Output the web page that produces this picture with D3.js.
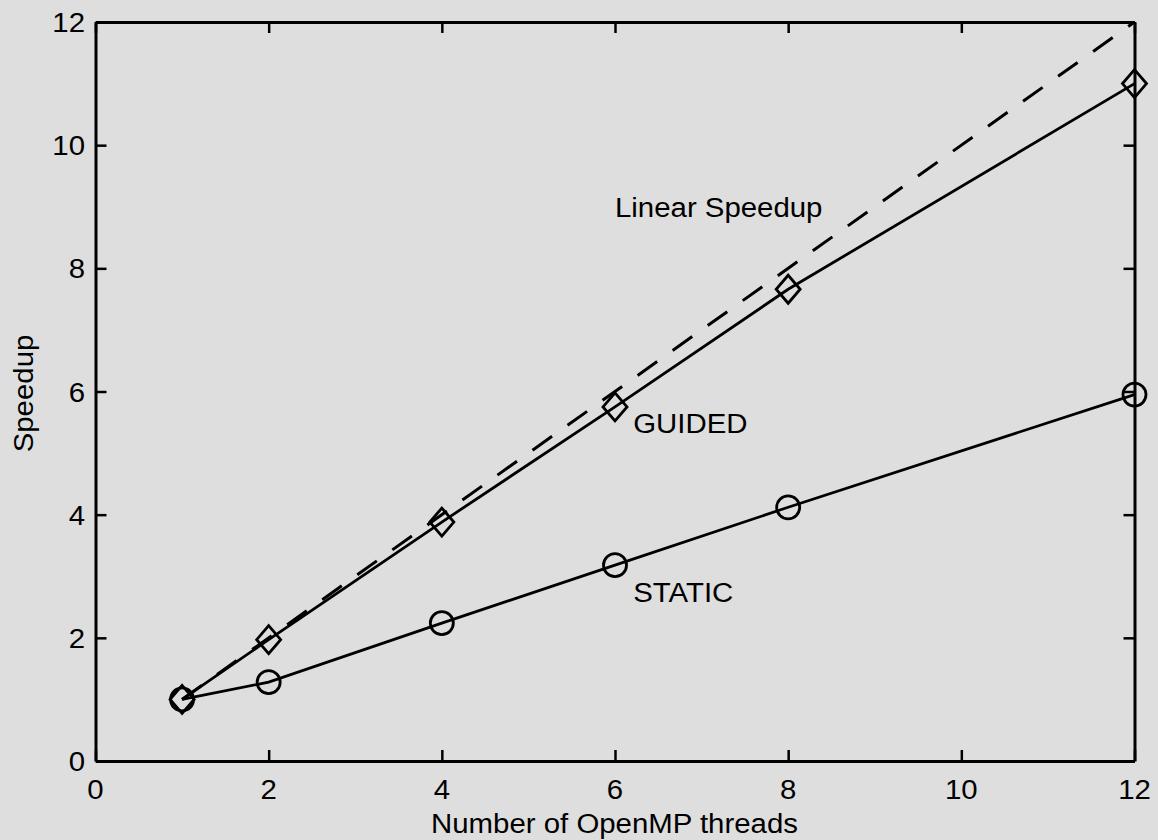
<!DOCTYPE html>
<html>
<head>
<meta charset="utf-8">
<script src="https://cdn.jsdelivr.net/npm/d3@7"></script>
<style>
html,body{margin:0;padding:0;background:#dedede;}
svg{display:block;}
text{font-family:"Liberation Sans",Arial,sans-serif;fill:#000;}
</style>
</head>
<body>
<svg id="chart" width="1158" height="840"></svg>
<script>
const threads = [1, 2, 4, 6, 8, 12];
const guided = [1.0, 1.97, 3.88, 5.75, 7.66, 11.0];
const staticVals = [1.0, 1.28, 2.24, 3.18, 4.12, 5.95];
const linearX = [1, 12];
const linearY = [1, 12];
const xTicks = [0, 2, 4, 6, 8, 10, 12];
const yTicks = [0, 2, 4, 6, 8, 10, 12];
const labels = [
  {text: "Linear Speedup", x: 6.0, y: 8.83},
  {text: "GUIDED", x: 6.21, y: 5.33},
  {text: "STATIC", x: 6.21, y: 2.58}
];

(function () {
const svg = d3.select("#chart");
const W = 1158, H = 840;
const mLeft = 95.5, mRight = 1134.5, mTop = 22, mBottom = 761;
const x = d3.scaleLinear().domain([0, 12]).range([mLeft, mRight]);
const y = d3.scaleLinear().domain([0, 12]).range([mBottom, mTop]);

svg.append("rect").attr("width", W).attr("height", H).attr("fill", "#dedede");

const fs = 28, sx = 1.05;
const gx = svg.append("g").attr("transform", `translate(0,${mBottom})`)
  .call(d3.axisBottom(x).tickValues(xTicks).tickSizeInner(-11).tickSizeOuter(0).tickFormat(""));
const gxt = svg.append("g").attr("transform", `translate(0,${mTop})`)
  .call(d3.axisTop(x).tickValues(xTicks).tickSizeInner(-11).tickSizeOuter(0).tickFormat(""));
const gy = svg.append("g").attr("transform", `translate(${mLeft},0)`)
  .call(d3.axisLeft(y).tickValues(yTicks).tickSizeInner(-11).tickSizeOuter(0).tickFormat(""));
const gyr = svg.append("g").attr("transform", `translate(${mRight},0)`)
  .call(d3.axisRight(y).tickValues(yTicks).tickSizeInner(-11).tickSizeOuter(0).tickFormat(""));
[gx, gxt, gy, gyr].forEach(g => {
  g.select(".domain").attr("stroke", "#000").attr("stroke-width", 3);
  g.selectAll(".tick line").attr("stroke", "#000").attr("stroke-width", 2.5);
  g.selectAll(".tick text").remove();
});

function txt(g, tx, ty, s, anchor, rot) {
  return g.append("text")
    .attr("transform", `translate(${tx},${ty})` + (rot ? ` rotate(${rot})` : "") + ` scale(${sx},1)`)
    .attr("text-anchor", anchor).attr("font-size", fs).text(s);
}

const tl = svg.append("g");
xTicks.forEach(d => txt(tl, x(d), 799, d, "middle"));
yTicks.forEach(d => txt(tl, 85, y(d) + 10, d, "end"));

txt(svg, (mLeft + mRight) / 2 - 0.5, 833, "Number of OpenMP threads", "middle");
txt(svg, 33, (mTop + mBottom) / 2 + 2, "Speedup", "middle", -90);

const linePts = linearX.map((d, i) => [d, linearY[i]]);
const line = d3.line().x(d => x(d[0])).y(d => y(d[1]));
svg.append("path").datum(linePts).attr("d", line)
  .attr("fill", "none").attr("stroke", "#000").attr("stroke-width", 3)
  .attr("stroke-dasharray", "24,19");

const gPts = threads.map((d, i) => [d, guided[i]]);
const sPts = threads.map((d, i) => [d, staticVals[i]]);
svg.append("path").datum(gPts).attr("d", line)
  .attr("fill", "none").attr("stroke", "#000").attr("stroke-width", 2.8);
svg.append("path").datum(sPts).attr("d", line)
  .attr("fill", "none").attr("stroke", "#000").attr("stroke-width", 2.8);

svg.append("g").selectAll("path").data(gPts).join("path")
  .attr("d", d => {
    const cx = x(d[0]), cy = y(d[1]);
    return `M${cx},${cy - 14}L${cx + 12},${cy}L${cx},${cy + 14}L${cx - 12},${cy}Z`;
  })
  .attr("fill", "none").attr("stroke", "#000").attr("stroke-width", 2.8);
svg.append("g").selectAll("circle").data(sPts).join("circle")
  .attr("cx", d => x(d[0])).attr("cy", d => y(d[1])).attr("r", 11.5)
  .attr("fill", "none").attr("stroke", "#000").attr("stroke-width", 2.8);

const lg = svg.append("g");
labels.forEach(d => txt(lg, x(d.x), y(d.y), d.text, "start"));
})();
</script>
</body>
</html>
